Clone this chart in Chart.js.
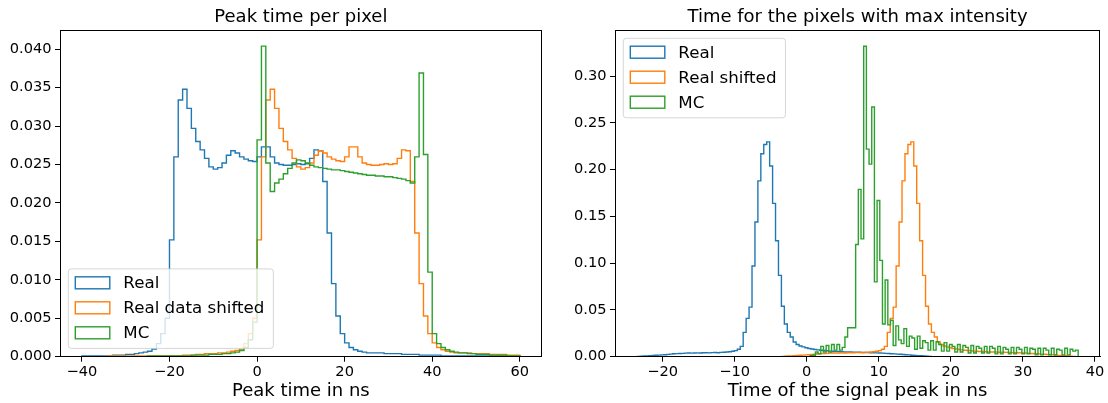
<!DOCTYPE html>
<html><head><meta charset="utf-8">
<script src="https://cdn.jsdelivr.net/npm/chart.js@4.4.1/dist/chart.umd.min.js"></script>
<style>
html,body{margin:0;padding:0;background:#fff;}
#wrap{position:relative;width:1108px;height:403px;background:#fff;}
.c{position:absolute;top:0;width:554px;height:403px;}
</style></head><body>
<div id="wrap">
<div class="c" style="left:0"><canvas id="c1" width="554" height="403"></canvas></div>
<div class="c" style="left:554px"><canvas id="c2" width="554" height="403"></canvas></div>
</div>
<script>
// ---------- Left panel: Peak time per pixel ----------
const leftTitle = 'Peak time per pixel';
const leftXLabel = 'Peak time in ns';
const leftLabels = ['Real', 'Real data shifted', 'MC'];
const leftBinStart = -40;   // ns, first bin edge
const leftBinWidth = 1;     // ns
const leftReal = [
 0.0001,0.0001,0.0001,0.0001,0.0001,0.0001,0.0001,0.0002,0.0002,0.0002,
 0.0003,0.0003,0.0004,0.0005,0.0006,0.0007,0.0010,0.0017,0.0030,0.0050,
 0.0152,0.0260,0.0334,0.0348,0.0323,0.0297,0.0280,0.0269,0.0258,0.0247,
 0.0244,0.0246,0.0252,0.0262,0.0268,0.0265,0.0260,0.0257,0.0255,0.0254,
 0.0260,0.0273,0.0273,0.0260,0.0252,0.0250,0.0249,0.0249,0.0250,0.0251,
 0.0250,0.0251,0.0258,0.0269,0.0268,0.0228,0.0161,0.0095,0.0053,0.0030,
 0.0018,0.0012,0.0009,0.0007,0.0006,0.0005,0.0005,0.0005,0.0005,0.0004,
 0.0004,0.0004,0.0004,0.0003,0.0003,0.0003,0.0003,0.0002,0.0002,0.0002,
 0.0002,0.0002,0.0001,0.0001,0.0001,0.0001,0.0001,0.0001,0.0001,0.0001,
 0.0001,0.0001,0.0001,0.0001,0.0001,0.0001,0.0001,0.0001,0.0001,0.0001];
const leftShifted = [
 0,0,0,0,0,0,0.0001,0.0001,0.0001,0.0001,
 0.0001,0.0001,0.0001,0.0001,0.0001,0.0001,0.0001,0.0001,0.0001,0.0001,
 0.0001,0.0001,0.0001,0.0002,0.0002,0.0002,0.0003,0.0003,0.0004,0.0004,
 0.0004,0.0005,0.0005,0.0006,0.0007,0.0008,0.0010,0.0017,0.0030,0.0050,
 0.0152,0.0260,0.0334,0.0348,0.0323,0.0297,0.0280,0.0269,0.0258,0.0247,
 0.0244,0.0246,0.0252,0.0262,0.0268,0.0265,0.0260,0.0257,0.0255,0.0254,
 0.0260,0.0273,0.0273,0.0260,0.0252,0.0250,0.0249,0.0249,0.0250,0.0251,
 0.0250,0.0251,0.0258,0.0269,0.0268,0.0228,0.0161,0.0095,0.0053,0.0030,
 0.0018,0.0012,0.0009,0.0007,0.0006,0.0005,0.0005,0.0005,0.0005,0.0004,
 0.0004,0.0004,0.0004,0.0003,0.0003,0.0003,0.0003,0.0002,0.0002,0.0002];
const leftMC = [
 0,0,0,0,0,0,0,0,0,0,
 0,0,0,0,0,0.0001,0.0001,0.0001,0.0001,0.0001,
 0.0001,0.0001,0.0001,0.0001,0.0001,0.0002,0.0002,0.0002,0.0002,0.0003,
 0.0003,0.0003,0.0004,0.0004,0.0005,0.0006,0.0008,0.0012,0.0022,0.0045,
 0.0282,0.0404,0.0252,0.0215,0.0226,0.0231,0.0238,0.0245,0.0252,0.0256,
 0.0255,0.0252,0.0249,0.0247,0.0246,0.0245,0.0244,0.0243,0.0243,0.0242,
 0.0241,0.0240,0.0239,0.0238,0.0237,0.0236,0.0236,0.0235,0.0235,0.0234,
 0.0234,0.0233,0.0232,0.0231,0.0229,0.0226,0.0260,0.0369,0.0263,0.0110,
 0.0030,0.0017,0.0012,0.0009,0.0007,0.0006,0.0005,0.0005,0.0004,0.0004,
 0.0003,0.0003,0.0003,0.0002,0.0002,0.0002,0.0002,0.0001,0.0001,0.0001];
const leftXTicks = [-40, -20, 0, 20, 40, 60];
const leftXTickLabels = ['\u221240', '\u221220', '0', '20', '40', '60'];
const leftYTicks = [0, 0.005, 0.010, 0.015, 0.020, 0.025, 0.030, 0.035, 0.040];
const leftYTickLabels = ['0.000','0.005','0.010','0.015','0.020','0.025','0.030','0.035','0.040'];

// ---------- Right panel: Time for the pixels with max intensity ----------
const rightTitle = 'Time for the pixels with max intensity';
const rightXLabel = 'Time of the signal peak in ns';
const rightLabels = ['Real', 'Real shifted', 'MC'];
const rightRealStart = -23.5, rightRealWidth = 0.408;
const rightShiftStart = -3.5, rightShiftWidth = 0.408;
const rightMCStart = 0.47, rightMCWidth = 0.372;
const rightReal = [
 0.0003,0.0005,0.0007,0.0009,0.0011,0.0013,0.0015,0.0017,0.0019,0.0021,
 0.0025,0.0028,0.0031,0.0033,0.0035,0.0036,0.0038,0.0039,0.0038,0.0040,
 0.0041,0.0040,0.0042,0.0043,0.0041,0.0044,0.0045,0.0043,0.0046,0.0048,
 0.0050,0.0053,0.0058,0.0065,0.0080,0.0110,0.0260,0.0410,0.0530,0.0970,
 0.1440,0.1880,0.2170,0.2270,0.2298,0.2040,0.1640,0.1240,0.0870,0.0540,
 0.0350,0.0260,0.0210,0.0157,0.0130,0.0115,0.0105,0.0095,0.0088,0.0082,
 0.0077,0.0073,0.0069,0.0066,0.0063,0.0060,0.0058,0.0056,0.0055,0.0053,
 0.0052,0.0051,0.0050,0.0049,0.0048,0.0047,0.0046,0.0045,0.0044,0.0043,
 0.0042,0.0041,0.0040,0.0038,0.0036,0.0034,0.0032,0.0030,0.0028,0.0026,
 0.0023,0.0021,0.0019,0.0016,0.0014,0.0012,0.0010,0.0008,0.0006,0.0004];
const rightShifted = [
 0.0003,0.0005,0.0007,0.0009,0.0011,0.0013,0.0015,0.0017,0.0019,0.0021,
 0.0025,0.0028,0.0031,0.0033,0.0035,0.0036,0.0038,0.0039,0.0038,0.0040,
 0.0041,0.0040,0.0042,0.0043,0.0041,0.0044,0.0045,0.0043,0.0046,0.0048,
 0.0050,0.0053,0.0058,0.0065,0.0080,0.0110,0.0260,0.0410,0.0530,0.0970,
 0.1440,0.1880,0.2170,0.2270,0.2298,0.2040,0.1640,0.1240,0.0870,0.0540,
 0.0350,0.0260,0.0210,0.0157,0.0130,0.0115,0.0105,0.0095,0.0088,0.0082,
 0.0077,0.0073,0.0069,0.0066,0.0063,0.0060,0.0058,0.0056,0.0055,0.0053,
 0.0052,0.0051,0.0050,0.0049,0.0048,0.0047,0.0046,0.0045,0.0044,0.0043,
 0.0042,0.0041,0.0040,0.0038,0.0036,0.0034,0.0032,0.0030,0.0028,0.0026,
 0.0023,0.0021,0.0019,0.0016,0.0014,0.0012,0.0010,0.0008,0.0006,0.0004];
const rightMC = [
 0.0010,0.0015,0.0050,0.0030,0.0110,0.0050,0.0120,0.0050,0.0130,0.0070,
 0.0130,0.0070,0.0100,0.0210,0.0310,0.0310,0.0310,0.1200,0.1790,0.1260,
 0.3320,0.2220,0.2060,0.2670,0.0800,0.1670,0.1030,0.0350,0.0820,0.0340,
 0.0390,0.0120,0.0330,0.0180,0.0140,0.0300,0.0110,0.0220,0.0200,0.0080,
 0.0220,0.0090,0.0170,0.0150,0.0070,0.0170,0.0070,0.0160,0.0130,0.0060,
 0.0150,0.0060,0.0130,0.0110,0.0050,0.0130,0.0050,0.0120,0.0100,0.0040,
 0.0120,0.0040,0.0110,0.0090,0.0040,0.0110,0.0040,0.0110,0.0090,0.0030,
 0.0110,0.0030,0.0100,0.0080,0.0030,0.0100,0.0030,0.0100,0.0080,0.0030,
 0.0100,0.0030,0.0090,0.0080,0.0020,0.0090,0.0020,0.0090,0.0070,0.0020,
 0.0090,0.0020,0.0080,0.0070,0.0020,0.0090,0.0020,0.0080,0.0060,0.0070];
const rightXTicks = [-20, -10, 0, 10, 20, 30, 40];
const rightXTickLabels = ['\u221220', '\u221210', '0', '10', '20', '30', '40'];
const rightYTicks = [0, 0.05, 0.10, 0.15, 0.20, 0.25, 0.30];
const rightYTickLabels = ['0.00','0.05','0.10','0.15','0.20','0.25','0.30'];

const COLORS = ['#1f77b4', '#ff7f0e', '#2ca02c'];
const FONT = '"DejaVu Sans", "Liberation Sans", sans-serif';

// histogram outline points (bin edges) for a step line
function stepPoints(start, width, vals) {
  const pts = [{x: start, y: 0}];
  vals.forEach((v, i) => pts.push({x: start + i * width, y: v}));
  const end = start + vals.length * width;
  pts.push({x: end, y: vals[vals.length - 1]});
  pts.push({x: end, y: 0});
  return pts;
}

function decorPlugin(cfg) {
  return {
    id: 'decor',
    afterDraw(chart) {
      const ctx = chart.ctx, ca = chart.chartArea;
      ctx.save();
      // legend
      const fs = 16.7;
      ctx.font = fs + 'px ' + FONT;
      const tw = Math.max(...cfg.series.map(s => ctx.measureText(s.label).width));
      const pad = 7, hl = 34.5, hh = 12, gap = 13.5;
      const w = pad + hl + gap + tw + pad + 2;
      const h = 79.5;
      const bap = 8.3;
      const x0 = ca.left + bap;
      const y0 = cfg.legendLoc === 'lower left' ? ca.bottom - bap - h : ca.top + bap;
      const r = 3;
      ctx.beginPath();
      ctx.moveTo(x0 + r, y0);
      ctx.lineTo(x0 + w - r, y0); ctx.arcTo(x0 + w, y0, x0 + w, y0 + r, r);
      ctx.lineTo(x0 + w, y0 + h - r); ctx.arcTo(x0 + w, y0 + h, x0 + w - r, y0 + h, r);
      ctx.lineTo(x0 + r, y0 + h); ctx.arcTo(x0, y0 + h, x0, y0 + h - r, r);
      ctx.lineTo(x0, y0 + r); ctx.arcTo(x0, y0, x0 + r, y0, r);
      ctx.closePath();
      ctx.fillStyle = 'rgba(255,255,255,0.8)';
      ctx.fill();
      ctx.strokeStyle = 'rgba(204,204,204,0.8)';
      ctx.lineWidth = 1;
      ctx.stroke();
      cfg.series.forEach((s, k) => {
        const cy = y0 + 13.9 + k * 25;
        ctx.strokeStyle = s.color;
        ctx.lineWidth = 1.4;
        ctx.strokeRect(x0 + pad, cy - hh / 2, hl, hh);
        ctx.fillStyle = '#000';
        ctx.textAlign = 'left';
        ctx.textBaseline = 'middle';
        ctx.fillText(s.label, x0 + pad + hl + gap, cy + 1);
      });
      // frame (all four spines)
      ctx.strokeStyle = '#000';
      ctx.lineWidth = 1;
      const L = Math.round(ca.left) + 0.5, T = Math.round(ca.top) + 0.5;
      const R = Math.round(ca.right) - 0.5, B = Math.round(ca.bottom) - 0.5;
      ctx.strokeRect(L, T, R - L, B - T);
      // title
      const cx = (ca.left + ca.right) / 2;
      ctx.fillStyle = '#000';
      ctx.font = '18px ' + FONT;
      ctx.textAlign = 'center';
      ctx.textBaseline = 'alphabetic';
      ctx.fillText(cfg.title, cx, ca.top - 8.3);
      // x axis label
      ctx.fillText(cfg.xLabel, cx, 396);
      ctx.restore();
    }
  };
}

function makeChart(id, cfg) {
  return new Chart(document.getElementById(id), {
    type: 'line',
    data: {
      datasets: cfg.series.map((s, k) => ({
        label: s.label,
        data: stepPoints(s.start, s.width, s.values),
        borderColor: s.color,
        borderWidth: 1.4,
        pointRadius: 0,
        fill: false,
        stepped: 'before',
        tension: 0,
        order: 3 - k
      }))
    },
    options: {
      responsive: false,
      animation: false,
      devicePixelRatio: 1,
      layout: {padding: {left: 0, right: cfg.padRight, top: 30, bottom: 0}},
      plugins: {legend: {display: false}, tooltip: {enabled: false}, title: {display: false}},
      scales: {
        x: {
          type: 'linear', min: cfg.xMin, max: cfg.xMax,
          afterBuildTicks: sc => { sc.ticks = cfg.xTicks.map(v => ({value: v})); },
          afterFit: sc => { sc.height = 46.3; },
          ticks: {
            callback: (v, i) => cfg.xTickLabels[i],
            font: {family: FONT, size: 14.6}, color: '#000', padding: 2,
            maxRotation: 0, autoSkip: false
          },
          grid: {drawOnChartArea: false, drawTicks: true, tickLength: 5, tickColor: '#000', tickWidth: 1},
          border: {display: true, color: '#000', width: 1}
        },
        y: {
          type: 'linear', min: 0, max: cfg.yMax,
          afterBuildTicks: sc => { sc.ticks = cfg.yTicks.map(v => ({value: v})); },
          afterFit: sc => { sc.width = cfg.yAxisWidth; },
          ticks: {
            callback: (v, i) => cfg.yTickLabels[i],
            font: {family: FONT, size: 14.6}, color: '#000', padding: 3.5,
            autoSkip: false
          },
          grid: {drawOnChartArea: false, drawTicks: true, tickLength: 5, tickColor: '#000', tickWidth: 1},
          border: {display: true, color: '#000', width: 1}
        }
      }
    },
    plugins: [decorPlugin(cfg)]
  });
}

makeChart('c1', {
  title: leftTitle, xLabel: leftXLabel, legendLoc: 'lower left',
  xMin: -45, xMax: 65, yMax: 0.0425,
  xTicks: leftXTicks, xTickLabels: leftXTickLabels,
  yTicks: leftYTicks, yTickLabels: leftYTickLabels,
  yAxisWidth: 60, padRight: 12.3,
  series: [
    {label: leftLabels[0], color: COLORS[0], start: leftBinStart, width: leftBinWidth, values: leftReal},
    {label: leftLabels[1], color: COLORS[1], start: leftBinStart, width: leftBinWidth, values: leftShifted},
    {label: leftLabels[2], color: COLORS[2], start: leftBinStart, width: leftBinWidth, values: leftMC}
  ]
});

makeChart('c2', {
  title: rightTitle, xLabel: rightXLabel, legendLoc: 'upper left',
  xMin: -26.6, xMax: 40.7, yMax: 0.3494,
  xTicks: rightXTicks, xTickLabels: rightXTickLabels,
  yTicks: rightYTicks, yTickLabels: rightYTickLabels,
  yAxisWidth: 61, padRight: 8,
  series: [
    {label: rightLabels[0], color: COLORS[0], start: rightRealStart, width: rightRealWidth, values: rightReal},
    {label: rightLabels[1], color: COLORS[1], start: rightShiftStart, width: rightShiftWidth, values: rightShifted},
    {label: rightLabels[2], color: COLORS[2], start: rightMCStart, width: rightMCWidth, values: rightMC}
  ]
});
</script>
</body></html>
